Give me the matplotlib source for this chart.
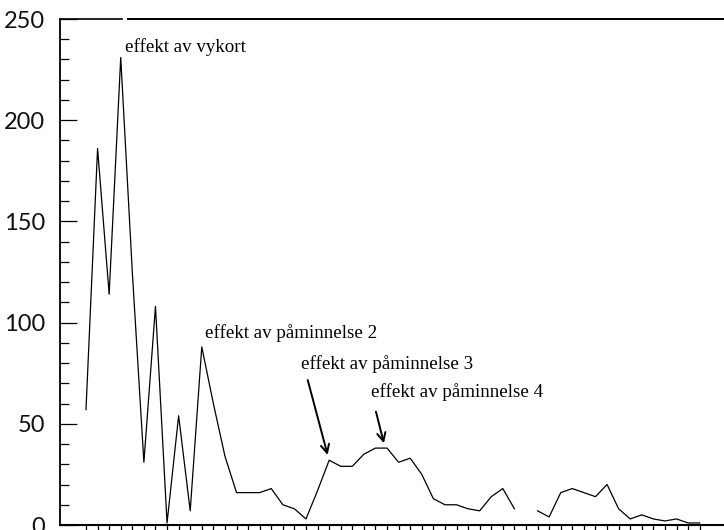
import numpy as np
import matplotlib
matplotlib.use("Agg")
import matplotlib.pyplot as plt

# Data (weekly responses)
weeks = list(range(54))
responses = [57, 186, 114, 231, 125, 31, 108, 1, 54, 7,
             88, 60, 34, 16, 16, 16, 18, 10, 8, 3,
             17, 32, 29, 29, 35, 38, 38, 31, 33, 25,
             13, 10, 10, 8, 7, 14, 18, 8, np.nan, 7,
             4, 16, 18, 16, 14, 20, 8, 3, 5, 3,
             2, 3, 1, 1]
y_ticks = [0, 50, 100, 150, 200, 250]
y_tick_labels = ["0", "50", "100", "150", "200", "250"]

annotations = [
    ("effekt av vykort", 3.37, 233.7, None),
    ("effekt av påminnelse 2", 10.28, 92.4, None),
    ("effekt av påminnelse 3", 18.6, 76.9, ((19.15, 71.6), (20.87, 34.6))),
    ("effekt av påminnelse 4", 24.6, 63.4, ((25.04, 56.0), (25.73, 40.4))),
]

fig = plt.figure(figsize=(7.24, 5.30), dpi=100)
ax = fig.add_axes([60/724, 5/530, 664/724, 506/530])

ax.plot(weeks, responses, color="black", lw=0.9)

ax.set_xlim(-2.245, 55.1)
ax.set_ylim(0, 250)

ax.set_yticks(y_ticks)
ax.set_yticklabels(y_tick_labels)
ax.set_yticks(np.arange(0, 251, 10), minor=True)
ax.tick_params(axis="y", which="major", direction="in", length=12.5, width=0.9,
               pad=10.8, labelsize=17, labelcolor="#111111")
ax.tick_params(axis="y", which="minor", direction="in", length=6.5, width=0.9)
for lab in ax.get_yticklabels():
    lab.set_family(["Lato", "DejaVu Sans"])
    lab.set_fontweight("normal")

ax.set_xticks(weeks)
ax.set_xticklabels([])
ax.tick_params(axis="x", which="major", direction="out", length=5, width=0.9)

ax.spines["right"].set_visible(False)
ax.spines["top"].set_visible(False)
ax.spines["left"].set_linewidth(1.3)
ax.spines["bottom"].set_linewidth(1.5)

# top border with a small gap (as in the scanned original)
g0, g1 = (122 - 60) / 664, (128 - 60) / 664
ax.plot([0, g0], [1, 1], transform=ax.transAxes, color="black", lw=1.2, clip_on=False)
ax.plot([g1, 1], [1, 1], transform=ax.transAxes, color="black", lw=1.4, clip_on=False)

for text, tx, ty, arrow in annotations:
    ax.text(tx, ty, text, family="Liberation Serif", fontsize=13.7, ha="left",
            va="baseline", color="black")
    if arrow is not None:
        (x0, y0), (x1, y1) = arrow
        ax.annotate("", xy=(x1, y1), xytext=(x0, y0),
                    arrowprops=dict(arrowstyle="->", color="black", lw=1.4,
                                    mutation_scale=15, shrinkA=0, shrinkB=0))

fig.savefig("out.png", dpi=100)
